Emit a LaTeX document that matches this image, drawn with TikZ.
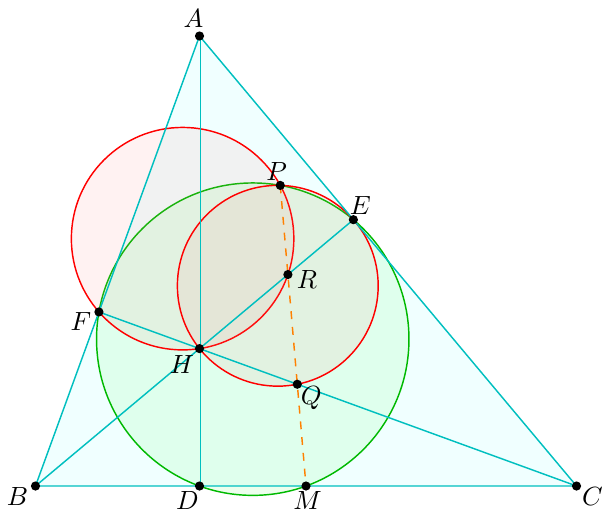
\documentclass[tikz,border=0pt]{standalone}
\usetikzlibrary{calc}
\definecolor{triline}{RGB}{0,191,191}
\definecolor{trifill}{RGB}{240,255,255}
\definecolor{gline}{RGB}{0,185,0}
\definecolor{gfill}{RGB}{0,255,0}
\definecolor{rline}{RGB}{255,0,0}
\definecolor{rfill}{RGB}{255,128,128}
\definecolor{oline}{RGB}{255,128,0}
\begin{document}
\begin{tikzpicture}[x=0.38pt,y=0.38pt,
  seg/.style={draw=triline, line width=0.55pt},
  redc/.style={draw=rline, line width=0.55pt, fill=rfill, fill opacity=0.1},
  greenc/.style={draw=gline, line width=0.55pt, fill=gfill, fill opacity=0.07},
  helper/.style={draw=oline, line width=0.55pt, dashed},
  ptdot/.style={fill=black},
  lbl/.style={inner sep=0pt}]
\useasboundingbox (-35.5,-25) rectangle (569.5,486);
% points
\coordinate (A) at (164,450);
\coordinate (B) at (0,0);
\coordinate (C) at (541,0);
\coordinate (D) at (164,0);
\coordinate (M) at (270.5,0);
\coordinate (H) at (164,137.396);
\coordinate (E) at (317.88,266.32);
\coordinate (F) at (63.431,174.047);
\coordinate (P) at (244.76,300.62);
\coordinate (Q) at (261.762,101.767);
\coordinate (R) at (252.398,211.459);
\coordinate (N) at (217.25,146.849);
\coordinate (O1) at (147.107,247.346);
\coordinate (O2) at (242.282,200.255);
% triangle fill
\fill[trifill] (A) -- (B) -- (C) -- cycle;
% circles
\path[greenc] (N) circle (156.206);
\path[redc] (O1) circle (111.24);
\path[redc] (O2) circle (100.396);
% triangle and altitudes
\path[seg] (A) -- (B) -- (C) -- cycle;
\path[seg] ([xshift=0.3]A) -- ([xshift=0.3]D);
\path[seg] (B) -- (E);
\path[seg] (C) -- (F);
% dashed line
\path[helper] (P) -- (M);
% dots
\foreach \p in {A,B,C,D,M,H,E,F,P,Q,R}
  \fill[ptdot] (\p) circle (4.6);
% labels
\node[lbl] (lA) at ($(A)+(-6,17)$) {$A$};
\node[lbl] (lB) at ($(B)+(-18,-10)$) {$B$};
\node[lbl] (lC) at ($(C)+(16,-10)$) {$C$};
\node[lbl] (lD) at ($(D)+(-12,-14)$) {$D$};
\node[lbl] (lM) at ($(M)+(1.5,-14)$) {$M$};
\node[lbl] (lE) at ($(E)+(7,14)$) {$E$};
\node[lbl] (lF) at ($(F)+(-18,-10)$) {$F$};
\node[lbl] (lH) at ($(H)+(-17.5,-15.5)$) {$H$};
\node[lbl] (lP) at ($(P)+(-3.5,14)$) {$P$};
\node[lbl] (lQ) at ($(Q)+(14,-14)$) {$Q$};
\node[lbl] (lR) at ($(R)+(19,-5)$) {$R$};
\end{tikzpicture}
\end{document}
